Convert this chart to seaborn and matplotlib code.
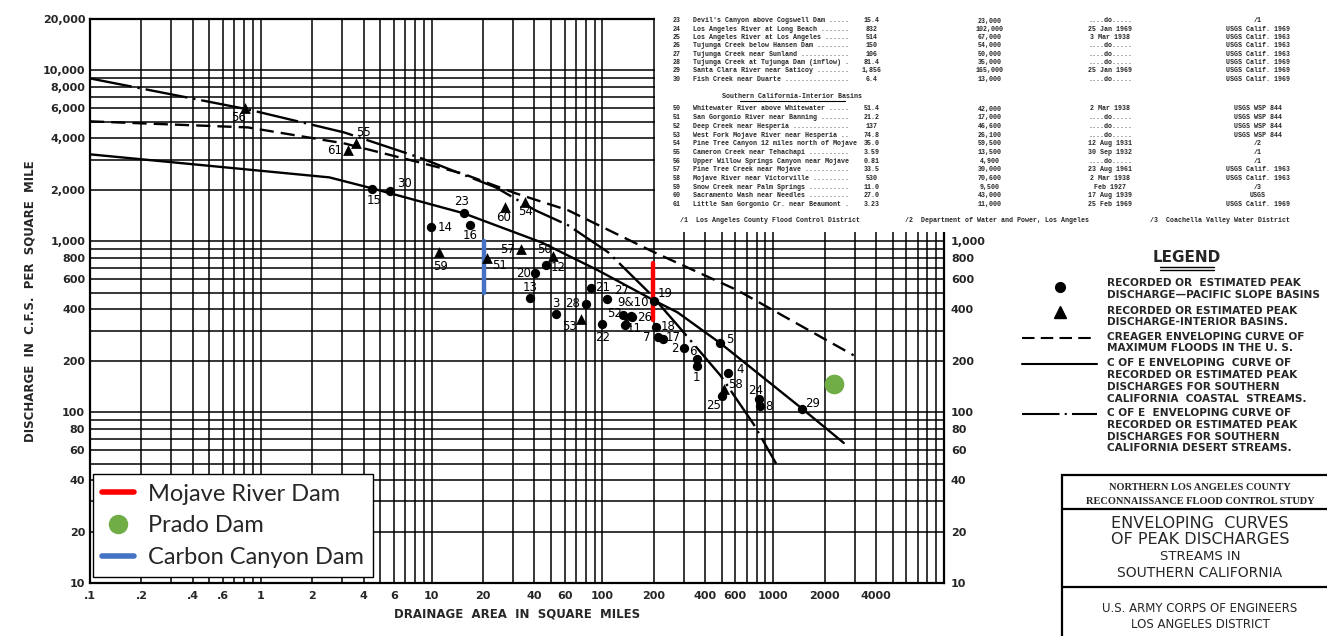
import numpy as np
import pandas as pd
import matplotlib
matplotlib.use("Agg")
import matplotlib.pyplot as plt
from matplotlib.lines import Line2D
from matplotlib.patches import Rectangle
import seaborn as sns

# ---- values (drainage area in sq mi, discharge in cfs per sq mi)
pacific_ids = ["1", "2", "3", "4", "5", "6", "7", "8", "9&10", "", "11", "12", "13", "14", "15",
               "16", "17", "18", "19", "20", "21", "22", "23", "24", "25", "26", "27", "28", "29", "30"]
pacific_area = [357, 299, 53.5, 546, 491, 360, 211, 840, 132, 148, 135, 47, 37.6, 9.9, 4.49,
                16.7, 226, 205, 200, 40.5, 86, 99, 15.4, 828, 504, 150, 106, 80, 1473, 5.7]
pacific_q = [186, 237, 374, 169, 253, 204, 275, 109, 369, 367, 323, 725, 464, 1208, 2015,
             1241, 267, 314, 445, 650, 531, 327, 1470, 120, 124, 360, 458, 428, 104, 1960]

interior_ids = ["50", "51", "52", "53", "54", "55", "56", "57", "58", "59", "60", "61"]
interior_area = [51.4, 21.2, 137, 74.8, 35.0, 3.59, 0.81, 33.5, 518, 11.0, 27.0, 3.23]
interior_q = [817, 802, 340, 349, 1700, 3760, 6049, 896, 136, 864, 1593, 3406]

creager_area = [0.1, 0.84, 3.08, 8.43, 15, 31, 63, 200, 617, 2960]
creager_q = [5035, 4640, 3740, 2900, 2500, 1910, 1518, 864, 517, 215]

coastal_area = [0.1, 2.52, 4.49, 15.4, 43.9, 94, 200, 275, 491, 1473, 2590]
coastal_q = [3228, 2366, 2040, 1459, 986, 677, 451, 384, 253, 105, 66]

desert_area = [0.1, 0.84, 3.08, 8.43, 23.7, 40.5, 63, 108, 189, 275, 491, 774, 1040]
desert_q = [8980, 5915, 4335, 3100, 2070, 1518, 1241, 863, 497, 323, 164, 84, 50]

mojave_area = [198, 198]
mojave_q = [345, 745]
carbon_area = [20.2, 20.2]
carbon_q = [497, 1000]
prado_area = [2255]
prado_q = [146]

x_ticks = [0.1, 0.2, 0.4, 0.6, 1, 2, 4, 6, 10, 20, 40, 60, 100, 200, 400, 600, 1000, 2000, 4000]
x_labels = [".1", ".2", ".4", ".6", "1", "2", "4", "6", "10", "20", "40", "60", "100", "200",
            "400", "600", "1000", "2000", "4000"]
y_ticks = [10, 20, 40, 60, 80, 100, 200, 400, 600, 800, 1000, 2000, 4000, 6000, 8000, 10000, 20000]
y_labels = ["10", "20", "40", "60", "80", "100", "200", "400", "600", "800", "1,000", "2,000",
            "4,000", "6,000", "8,000", "10,000", "20,000"]
y_right_ticks = [10, 20, 40, 60, 80, 100, 200, 400, 600, 800, 1000]
y_right_labels = ["10", "20", "40", "60", "80", "100", "200", "400", "600", "800", "1,000"]

# label offsets in pixels from each marker
label_offsets = {
    "1": (0, -11), "2": (-9, 0), "3": (0, 11), "4": (12, 4), "5": (9, 4), "6": (-5, 8),
    "7": (-11, 0), "8": (9, -1), "9&10": (10, 13), "11": (10, -3), "12": (12, -2),
    "13": (0, 11), "14": (14, 0), "15": (2, -11), "16": (1, -10), "17": (10, 2),
    "18": (12, 1), "19": (11, 8), "20": (-12, 0), "21": (11, 1), "22": (1, -13),
    "23": (-2, 11), "24": (-4, 8), "25": (-9, -9), "26": (12, 0), "27": (15, 9),
    "28": (-13, 1), "29": (11, 6), "30": (15, 8),
    "50": (-9, 7), "51": (12, -8), "52": (-11, 8), "53": (-11, -7), "54": (1, -10),
    "55": (8, 11), "56": (-7, -10), "57": (-14, 0), "58": (11, 5), "59": (2, -14),
    "60": (-2, -11), "61": (-13, 0),
}

table_top = [
    ("23", "Devil's Canyon above Cogswell Dam", "15.4", "23,000", "....do.....", "/1"),
    ("24", "Los Angeles River at Long Beach", "832", "102,000", "25 Jan 1969", "USGS Calif. 1969"),
    ("25", "Los Angeles River at Los Angeles", "514", "67,000", "3 Mar 1938", "USGS Calif. 1963"),
    ("26", "Tujunga Creek below Hansen Dam", "150", "54,000", "....do.....", "USGS Calif. 1963"),
    ("27", "Tujunga Creek near Sunland", "106", "50,000", "....do.....", "USGS Calif. 1963"),
    ("28", "Tujunga Creek at Tujunga Dam (inflow)", "81.4", "35,000", "....do.....", "USGS Calif. 1969"),
    ("29", "Santa Clara River near Saticoy", "1,856", "165,000", "25 Jan 1969", "USGS Calif. 1969"),
    ("30", "Fish Creek near Duarte", "6.4", "13,000", "....do.....", "USGS Calif. 1969"),
]
table_interior = [
    ("50", "Whitewater River above Whitewater", "51.4", "42,000", "2 Mar 1938", "USGS WSP 844"),
    ("51", "San Gorgonio River near Banning", "21.2", "17,000", "....do.....", "USGS WSP 844"),
    ("52", "Deep Creek near Hesperia", "137", "46,600", "....do.....", "USGS WSP 844"),
    ("53", "West Fork Mojave River near Hesperia", "74.8", "26,100", "....do.....", "USGS WSP 844"),
    ("54", "Pine Tree Canyon 12 miles north of Mojave", "35.0", "59,500", "12 Aug 1931", "/2"),
    ("55", "Cameron Creek near Tehachapi", "3.59", "13,500", "30 Sep 1932", "/1"),
    ("56", "Upper Willow Springs Canyon near Mojave", "0.81", "4,900", "....do.....", "/1"),
    ("57", "Pine Tree Creek near Mojave", "33.5", "30,000", "23 Aug 1961", "USGS Calif. 1963"),
    ("58", "Mojave River near Victorville", "530", "70,600", "2 Mar 1938", "USGS Calif. 1963"),
    ("59", "Snow Creek near Palm Springs", "11.0", "9,500", "Feb 1927", "/3"),
    ("60", "Sacramento Wash near Needles", "27.0", "43,000", "17 Aug 1939", "USGS"),
    ("61", "Little San Gorgonio Cr. near Beaumont", "3.23", "11,000", "25 Feb 1969", "USGS Calif. 1969"),
]
footnotes = ["/1  Los Angeles County Flood Control District",
             "/2  Department of Water and Power, Los Angeles",
             "/3  Coachella Valley Water District"]

legend_lines = [
    "RECORDED OR  ESTIMATED PEAK", "DISCHARGE\u2014PACIFIC SLOPE BASINS",
    "RECORDED OR ESTIMATED PEAK", "DISCHARGE-INTERIOR BASINS.",
    "CREAGER ENVELOPING CURVE OF", "MAXIMUM FLOODS IN THE U. S.",
    "C OF E ENVELOPING  CURVE OF", "RECORDED OR ESTIMATED PEAK",
    "DISCHARGES FOR SOUTHERN", "CALIFORNIA  COASTAL  STREAMS.",
    "C OF E  ENVELOPING CURVE OF", "RECORDED OR ESTIMATED PEAK",
    "DISCHARGES FOR SOUTHERN", "CALIFORNIA DESERT STREAMS.",
]

pacific = pd.DataFrame({"area": pacific_area, "q": pacific_q, "id": pacific_ids})
interior = pd.DataFrame({"area": interior_area, "q": interior_q, "id": interior_ids})

sns.set_theme(style="white")
plt.rcParams["font.family"] = ["DejaVu Sans"]

W, H = 1327, 636
fig = plt.figure(figsize=(W / 100, H / 100), dpi=100)
fig.patch.set_facecolor("white")


def fx(px):
    return px / W


def fy(py):
    return 1 - py / H


ax = fig.add_axes([fx(90), fy(583), 854 / W, 564 / H])
ax.set_xscale("log")
ax.set_yscale("log")

# log paper grid
minor_x = [m * 10.0 ** e for e in range(-1, 4) for m in range(1, 10)]
minor_y = [m * 10.0 ** e for e in range(1, 4) for m in range(1, 10)] + [10000, 20000]
ax.set_xticks(minor_x, minor=True)
ax.set_yticks(minor_y, minor=True)
ax.set_xticks(x_ticks)
ax.set_xticklabels(x_labels)
ax.set_yticks(y_ticks)
ax.set_yticklabels(y_labels)
ax.xaxis.set_minor_formatter(matplotlib.ticker.NullFormatter())
ax.yaxis.set_minor_formatter(matplotlib.ticker.NullFormatter())
ax.grid(which="both", color="black", lw=1.1)
ax.set_axisbelow(True)
ax.tick_params(which="both", length=0, labelsize=8)
ax.tick_params(axis="x", pad=6)
for lab in ax.get_xticklabels() + ax.get_yticklabels():
    lab.set_fontweight("bold")
for sp in ax.spines.values():
    sp.set_color("black")
    sp.set_linewidth(1.6)

# enveloping curves
sns.lineplot(x=creager_area, y=creager_q, ax=ax, color="black", lw=1.7,
             estimator=None, sort=False)
ax.lines[-1].set_linestyle((0, (6, 3)))
sns.lineplot(x=coastal_area, y=coastal_q, ax=ax, color="black", lw=1.7,
             estimator=None, sort=False)
sns.lineplot(x=desert_area, y=desert_q, ax=ax, color="black", lw=1.7,
             estimator=None, sort=False)
ax.lines[-1].set_linestyle((0, (18, 2.5, 1, 2.5)))

# recorded peaks
sns.scatterplot(data=pacific, x="area", y="q", ax=ax, color="black", marker="o",
                s=45, linewidth=0, zorder=4)
sns.scatterplot(data=interior, x="area", y="q", ax=ax, color="black", marker="^",
                s=60, linewidth=0, zorder=4)
for df in (pacific, interior):
    for _, r in df.iterrows():
        if r["id"] == "":
            continue
        ax.annotate(r["id"], (r["area"], r["q"]), xytext=label_offsets[r["id"]],
                    textcoords="offset pixels", ha="center", va="center",
                    fontsize=8.5, color="black", zorder=5)

# dams
sns.lineplot(x=mojave_area, y=mojave_q, ax=ax, color="#FF0000", lw=3.2,
             estimator=None, sort=False)
sns.lineplot(x=carbon_area, y=carbon_q, ax=ax, color="#4472C4", lw=3.2,
             estimator=None, sort=False)
sns.scatterplot(x=prado_area, y=prado_q, ax=ax, color="#70AD47", s=200,
                linewidth=0, zorder=6)

ax.set_xlim(0.1, 10000)
ax.set_ylim(10, 20000)

ax.set_xlabel("DRAINAGE  AREA  IN  SQUARE  MILES", fontsize=8.5, fontweight="bold")
ax.xaxis.set_label_coords(0.5, -0.044)
ax.set_ylabel("DISCHARGE  IN  C.F.S.  PER  SQUARE  MILE", fontsize=8.5, fontweight="bold")
ax.yaxis.set_label_coords(-0.063, 0.5)

handles = [
    Line2D([], [], color="#FF0000", lw=4),
    Line2D([], [], color="#70AD47", marker="o", ls="", markersize=13),
    Line2D([], [], color="#4472C4", lw=4),
]
leg = ax.legend(handles, ["Mojave River Dam", "Prado Dam", "Carbon Canyon Dam"],
                loc="lower left", bbox_to_anchor=(0.003, 0.01), borderaxespad=0,
                frameon=True, fancybox=False, framealpha=1, edgecolor="black",
                prop={"family": "Lato", "size": 17}, handlelength=1.35,
                labelspacing=0.45, borderpad=0.4, handletextpad=0.6)
leg.get_frame().set_linewidth(1.0)
leg.set_zorder(10)

# right hand scale
ax2 = ax.twinx()
ax2.set_yscale("log")
ax2.set_yticks(y_right_ticks)
ax2.set_yticklabels(y_right_labels)
ax2.set_ylim(10, 20000)
ax2.yaxis.set_minor_formatter(matplotlib.ticker.NullFormatter())
ax2.tick_params(which="both", length=0, labelsize=8, pad=5)
for lab in ax2.get_yticklabels():
    lab.set_fontweight("bold")
ax2.grid(False)
for sp in ax2.spines.values():
    sp.set_visible(False)

# pasted station table (covers the upper right of the chart)
fig.add_artist(Rectangle((fx(655), fy(232)), fx(1327) - fx(655), fy(0) - fy(232),
                         transform=fig.transFigure, facecolor="white", edgecolor="none",
                         zorder=5))
mono = {"family": "Liberation Mono", "size": 4.8, "weight": "bold"}


def table_row(y, row):
    num, name, area, q, date, src = row
    leader = name + " " + "." * max(0, 39 - len(name) - 1)
    fig.text(fx(677), fy(y), num, ha="center", va="center", zorder=6, fontdict=mono)
    fig.text(fx(693), fy(y), leader.rstrip(), ha="left", va="center", zorder=6, fontdict=mono)
    fig.text(fx(872), fy(y), area, ha="center", va="center", zorder=6, fontdict=mono)
    fig.text(fx(990), fy(y), q, ha="center", va="center", zorder=6, fontdict=mono)
    fig.text(fx(1110), fy(y), date, ha="center", va="center", zorder=6, fontdict=mono)
    fig.text(fx(1258), fy(y), src, ha="center", va="center", zorder=6, fontdict=mono)


for i, row in enumerate(table_top):
    table_row(21 + 8.3 * i, row)
fig.text(fx(792), fy(96), "Southern California-Interior Basins", ha="center", va="center",
         zorder=6, fontdict=mono)
fig.add_artist(Line2D([fx(740), fx(845)], [fy(101), fy(101)], color="black", lw=0.8,
                      transform=fig.transFigure, zorder=6))
for i, row in enumerate(table_interior):
    table_row(109 + 8.7 * i, row)
for xpos, note in zip([680, 905, 1150], footnotes):
    fig.text(fx(xpos), fy(221), note, ha="left", va="center", zorder=6, fontdict=mono)

# scanned legend
fig.text(fx(1187), fy(257), "LEGEND", ha="center", va="center", fontsize=11,
         fontweight="bold", zorder=6)
for yy in (267, 270):
    fig.add_artist(Line2D([fx(1160), fx(1214)], [fy(yy), fy(yy)], color="black", lw=1.0,
                          transform=fig.transFigure, zorder=6))
fig.add_artist(Line2D([fx(1060)], [fy(287)], marker="o", color="black", markersize=7,
                      transform=fig.transFigure, zorder=6))
fig.add_artist(Line2D([fx(1060)], [fy(312)], marker="^", color="black", markersize=8,
                      transform=fig.transFigure, zorder=6))
fig.add_artist(Line2D([fx(1022), fx(1097)], [fy(338), fy(338)], color="black", lw=1.5,
                      ls=(0, (6, 3)), transform=fig.transFigure, zorder=6))
fig.add_artist(Line2D([fx(1022), fx(1097)], [fy(364), fy(364)], color="black", lw=1.5,
                      transform=fig.transFigure, zorder=6))
fig.add_artist(Line2D([fx(1022), fx(1097)], [fy(414), fy(414)], color="black", lw=1.5,
                      ls=(0, (18, 2.5, 1, 2.5)), transform=fig.transFigure, zorder=6))
leg_y = [283, 295, 311, 322, 337, 348, 363, 375, 387, 399, 413, 425, 437, 448]
for yy, txt in zip(leg_y, legend_lines):
    fig.text(fx(1107), fy(yy), txt, ha="left", va="center", fontsize=7.6,
             fontweight="bold", zorder=6)

# title block
fig.add_artist(Rectangle((fx(1062), fy(640)), fx(1330) - fx(1062), fy(475) - fy(640),
                         transform=fig.transFigure, facecolor="white", edgecolor="black",
                         lw=1.6, zorder=6))
for yy in (509, 587):
    fig.add_artist(Line2D([fx(1062), fx(1330)], [fy(yy), fy(yy)], color="black", lw=1.6,
                          transform=fig.transFigure, zorder=7))
title_block = [
    (487, "NORTHERN LOS ANGELES COUNTY", "Liberation Serif", 7.5),
    (501, "RECONNAISSANCE FLOOD CONTROL STUDY", "Liberation Serif", 7.5),
    (523, "ENVELOPING  CURVES", "DejaVu Sans", 11.5),
    (540, "OF PEAK DISCHARGES", "DejaVu Sans", 11.5),
    (557, "STREAMS IN", "DejaVu Sans", 9.5),
    (573, "SOUTHERN CALIFORNIA", "DejaVu Sans", 10),
    (608, "U.S. ARMY CORPS OF ENGINEERS", "DejaVu Sans", 8.5),
    (624, "LOS ANGELES DISTRICT", "DejaVu Sans", 8.5),
]
for yy, txt, fam, size in title_block:
    fig.text(fx(1200), fy(yy), txt, ha="center", va="center", family=fam, fontsize=size,
             fontweight="bold" if fam == "Liberation Serif" else "normal", zorder=8)

fig.savefig("out.png", dpi=100)
